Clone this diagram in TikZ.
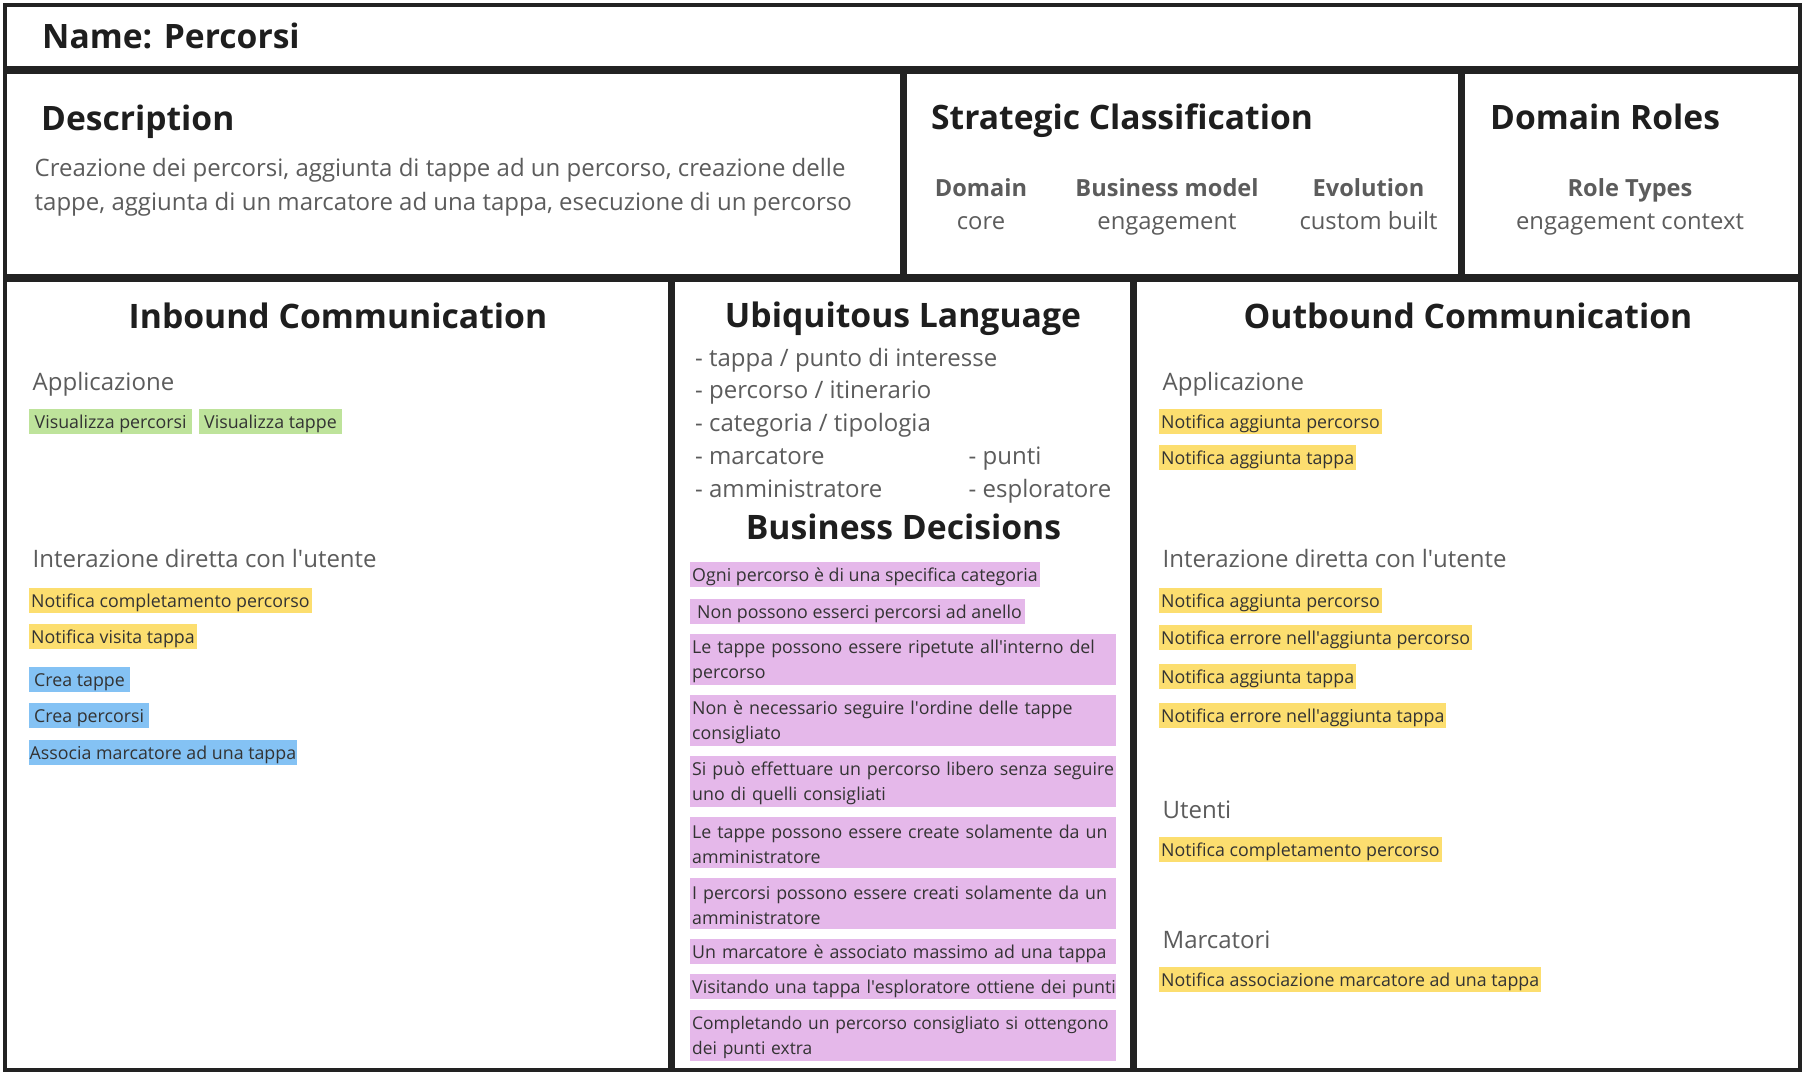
\documentclass[tikz,border=0pt]{standalone}
\usepackage{fontspec}
\setmainfont{Open Sans}
\definecolor{framecol}{HTML}{222222}
\definecolor{headcol}{HTML}{1E1E1E}
\definecolor{bodycol}{HTML}{5C5C5C}
\definecolor{tagtxt}{HTML}{333333}
\definecolor{tgreen}{HTML}{BEE39B}
\definecolor{tyellow}{HTML}{FCDE6F}
\definecolor{tblue}{HTML}{84C2F4}
\definecolor{tpurple}{HTML}{E5B8EA}
\newcommand\ap{\textquotesingle{}}
\newcommand\twol[2]{\rule{0pt}{17.2pt}\mbox{#1}\\\mbox{#2}}
\begin{document}
\begin{tikzpicture}[x=1pt,y=-1pt,
  boxframe/.style={draw=framecol,line width=3.5pt},
  heading/.style={anchor=base,inner sep=0,text=headcol,font=\fontsize{33.7}{40}\selectfont\bfseries},
  lheading/.style={anchor=base west,inner sep=0,text=headcol,font=\fontsize{33.6}{40}\selectfont\bfseries},
  bodytxt/.style={anchor=base west,inner sep=0,text=bodycol,font=\fontsize{24}{32}\selectfont},
  labeltxt/.style={anchor=base,inner sep=0,text=bodycol,font=\fontsize{23.6}{30}\selectfont\bfseries},
  valuetxt/.style={anchor=base,inner sep=0,text=bodycol,font=\fontsize{23.8}{30}\selectfont},
  tagbox/.style={anchor=north west,minimum height=25pt,inner ysep=0pt,inner xsep=2pt,
     text height=16pt,text depth=2pt,text=tagtxt,font=\fontsize{17.8}{25.5}\selectfont},
  widetag/.style={tagbox,fill=tpurple,text width=422pt,align=left,inner xsep=2pt},
  twoline/.style={widetag,minimum height=51pt,text height=,text depth=},
]
\useasboundingbox (0,0) rectangle (1805,1076);
\fill[white] (0,0) rectangle (1805,1076);

% frames
\draw[boxframe] (5,5) rectangle (1800,68);
\draw[boxframe] (5,72) rectangle (902,276);
\draw[boxframe] (905,72) rectangle (1460,276);
\draw[boxframe] (1463,72) rectangle (1800,276);
\draw[boxframe] (5,280) rectangle (670,1070);
\draw[boxframe] (673,280) rectangle (1132,1070);
\draw[boxframe] (1135,280) rectangle (1800,1070);

% title
\node[lheading] (name) at (42,48) {Name: Percorsi};

% description
\node[lheading] (desch) at (41,130) {Description};
\node[bodytxt] (desc1) at (34.5,176) {Creazione dei percorsi, aggiunta di tappe ad un percorso, creazione delle};
\node[bodytxt] (desc2) at (34.5,210) {tappe, aggiunta di un marcatore ad una tappa, esecuzione di un percorso};

% strategic classification
\node[lheading] (strat) at (931,129.5) {Strategic Classification};
\node[labeltxt] (domL) at (981,196) {Domain};
\node[valuetxt] (domV) at (981,229.3) {core};
\node[labeltxt] (bmL) at (1167,196) {Business model};
\node[valuetxt] (bmV) at (1167,229.3) {engagement};
\node[labeltxt] (evL) at (1368.5,196) {Evolution};
\node[valuetxt] (evV) at (1368.5,229.3) {custom built};

% domain roles
\node[lheading] (roles) at (1490,129.5) {Domain Roles};
\node[labeltxt] (rtL) at (1630,196) {Role Types};
\node[valuetxt] (rtV) at (1630,229.3) {engagement context};

% inbound
\node[heading] (inh) at (338,328) {Inbound Communication};
\node[bodytxt] (inApp) at (32.5,390) {Applicazione};
\node[tagbox,fill=tgreen,inner xsep=5.5pt] (ig1) at (29,409) {Visualizza percorsi};
\node[tagbox,fill=tgreen,inner xsep=5.5pt] (ig2) at (198.5,409) {Visualizza tappe};
\node[bodytxt] (inInt) at (32.5,567.7) {Interazione diretta con l\ap utente};
\node[tagbox,fill=tyellow] (iy1) at (29,587.5) {Notifica completamento percorso};
\node[tagbox,fill=tyellow] (iy2) at (29,623.5) {Notifica visita tappa};
\node[tagbox,fill=tblue,inner xsep=5pt] (ib1) at (29,666.5) {Crea tappe};
\node[tagbox,fill=tblue,inner xsep=5pt] (ib2) at (29,703) {Crea percorsi};
\node[tagbox,fill=tblue,inner xsep=0.5pt] (ib3) at (29,739.5) {Associa marcatore ad una tappa};

% ubiquitous language
\node[heading] (ubih) at (903,327.5) {Ubiquitous Language};
\node[bodytxt] (u1) at (695,366) {- tappa / punto di interesse};
\node[bodytxt] (u2) at (695,398.5) {- percorso / itinerario};
\node[bodytxt] (u3) at (695,431.5) {- categoria / tipologia};
\node[bodytxt] (u4) at (695,464.5) {- marcatore};
\node[bodytxt] (u5) at (695,497.5) {- amministratore};
\node[bodytxt] (u6) at (968.5,464.5) {- punti};
\node[bodytxt] (u7) at (968.5,497.5) {- esploratore};

% business decisions
\node[heading] (bdh) at (903.5,539.3) {Business Decisions};
\node[tagbox,fill=tpurple] (p1) at (690,562) {Ogni percorso è di una specifica categoria};
\node[tagbox,fill=tpurple,inner xsep=3pt] (p2) at (690,598.5) {\hspace{4pt}Non possono esserci percorsi ad anello};
\node[twoline] (p3) at (690,634) {\twol{Le tappe possono essere ripetute all\ap interno del}{percorso}};
\node[twoline] (p4) at (690,695) {\twol{Non è necessario seguire l\ap ordine delle tappe}{consigliato}};
\node[twoline] (p5) at (690,756) {\twol{Si può effettuare un percorso libero senza seguire}{uno di quelli consigliati}};
\node[twoline] (p6) at (690,816.7) {\twol{Le tappe possono essere create solamente da un}{amministratore}};
\node[twoline] (p7) at (690,877.7) {\twol{I percorsi possono essere creati solamente da un}{amministratore}};
\node[widetag] (p8) at (690,939) {\mbox{Un marcatore è associato massimo ad una tappa}};
\node[widetag] (p9) at (690,974) {\mbox{Visitando una tappa l\ap esploratore ottiene dei punti}};
\node[twoline,font=\fontsize{17.4}{25.5}\selectfont] (p10) at (690,1010) {\twol{Completando un percorso consigliato si ottengono}{dei punti extra}};

% outbound
\node[heading] (outh) at (1468,328) {Outbound Communication};
\node[bodytxt] (oApp) at (1162.4,390) {Applicazione};
\node[tagbox,fill=tyellow] (oy1) at (1159,408.5) {Notifica aggiunta percorso};
\node[tagbox,fill=tyellow] (oy2) at (1159,444.5) {Notifica aggiunta tappa};
\node[bodytxt] (oInt) at (1162.4,567.7) {Interazione diretta con l\ap utente};
\node[tagbox,fill=tyellow] (oy3) at (1159,587.5) {Notifica aggiunta percorso};
\node[tagbox,fill=tyellow] (oy4) at (1159,624.5) {Notifica errore nell\ap aggiunta percorso};
\node[tagbox,fill=tyellow] (oy5) at (1159,663.5) {Notifica aggiunta tappa};
\node[tagbox,fill=tyellow] (oy6) at (1159,703) {Notifica errore nell\ap aggiunta tappa};
\node[bodytxt] (oUt) at (1162.4,818.3) {Utenti};
\node[tagbox,fill=tyellow] (oy7) at (1159,836.5) {Notifica completamento percorso};
\node[bodytxt] (oMa) at (1162.4,948.3) {Marcatori};
\node[tagbox,fill=tyellow] (oy8) at (1159,967) {Notifica associazione marcatore ad una tappa};
\end{tikzpicture}
\end{document}
